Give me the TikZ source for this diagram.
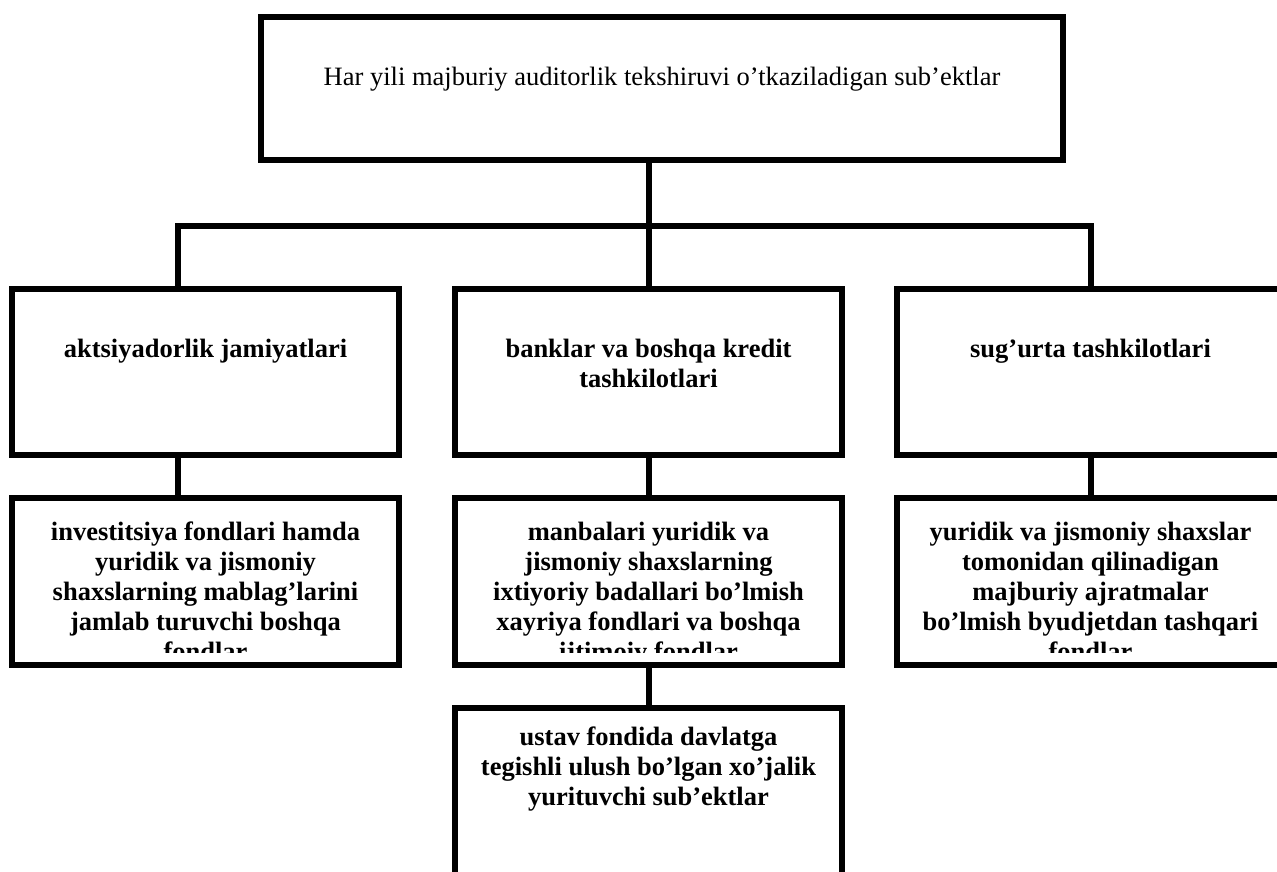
\documentclass[tikz,border=0pt]{standalone}
\usepackage{fontspec}
\setmainfont{Liberation Serif}
\tikzset{
  box/.style={draw=black, line width=6pt, rectangle, inner sep=0pt, outer sep=0pt},
  conn/.style={draw=black, line width=6pt},
  lbl/.style={anchor=north, align=center, inner sep=0pt, font=\fontsize{26.5}{30}\selectfont\bfseries},
  toplbl/.style={anchor=north, align=center, inner sep=0pt, font=\fontsize{26.5}{30}\selectfont},
}
\newcommand{\fs}{\rule{0pt}{20pt}}
\begin{document}
\begin{tikzpicture}[x=1pt,y=-1pt]
\useasboundingbox (0,0) rectangle (1277,872);
\clip (0,0) rectangle (1277,872);
% boxes
\node[box, minimum width=802pt, minimum height=143pt] (top) at (662,88.5) {};
\node[box, minimum width=387pt, minimum height=166pt] (b1) at (205.5,372) {};
\node[box, minimum width=387pt, minimum height=166pt] (b2) at (648.5,372) {};
\node[box, minimum width=387pt, minimum height=166pt] (b3) at (1090.5,372) {};
\node[box, minimum width=387pt, minimum height=167pt] (c1) at (205.5,581.5) {};
\node[box, minimum width=387pt, minimum height=167pt] (c2) at (648.5,581.5) {};
\node[box, minimum width=387pt, minimum height=167pt] (c3) at (1090.5,581.5) {};
\node[box, minimum width=387pt, minimum height=192pt] (d2) at (648.5,804) {};
% connectors
\coordinate (barL) at (178,226);
\coordinate (barR) at (1090.5,226);
\draw[conn] (b1.north -| barL) -- (barL) -- (barR) -- (b3.north);
\draw[conn] (top.south -| b2.north) -- (b2.north);
\draw[conn] (b1.south -| barL) -- (c1.north -| barL);
\draw[conn] (b2.south) -- (c2.north);
\draw[conn] (b3.south) -- (c3.north);
\draw[conn] (c2.south) -- (d2.north);
% texts
\node[toplbl] (t0) at (662,65) {\fs Har yili majburiy auditorlik tekshiruvi o’tkaziladigan sub’ektlar};
\node[lbl] (t1) at (205.5,337) {\fs aktsiyadorlik jamiyatlari};
\node[lbl] (t2) at (648.5,337) {\fs banklar va boshqa kredit\\tashkilotlari};
\node[lbl] (t3) at (1090.5,337) {\fs sug’urta tashkilotlari};
\begin{scope}
\clip (0,498) rectangle (1290,652);
\node[lbl] (u1) at (205.5,520) {\fs investitsiya fondlari hamda\\yuridik va jismoniy\\shaxslarning mablag’larini\\jamlab turuvchi boshqa\\fondlar};
\node[lbl] (u2) at (648.5,520) {\fs manbalari yuridik va\\jismoniy shaxslarning\\ixtiyoriy badallari bo’lmish\\xayriya fondlari va boshqa\\ijtimoiy fondlar};
\node[lbl] (u3) at (1090.5,520) {\fs yuridik va jismoniy shaxslar\\tomonidan qilinadigan\\majburiy ajratmalar\\bo’lmish byudjetdan tashqari\\fondlar};
\end{scope}
\node[lbl] (v2) at (648.5,725) {\fs ustav fondida davlatga\\tegishli ulush bo’lgan xo’jalik\\yurituvchi sub’ektlar};
\end{tikzpicture}
\end{document}
